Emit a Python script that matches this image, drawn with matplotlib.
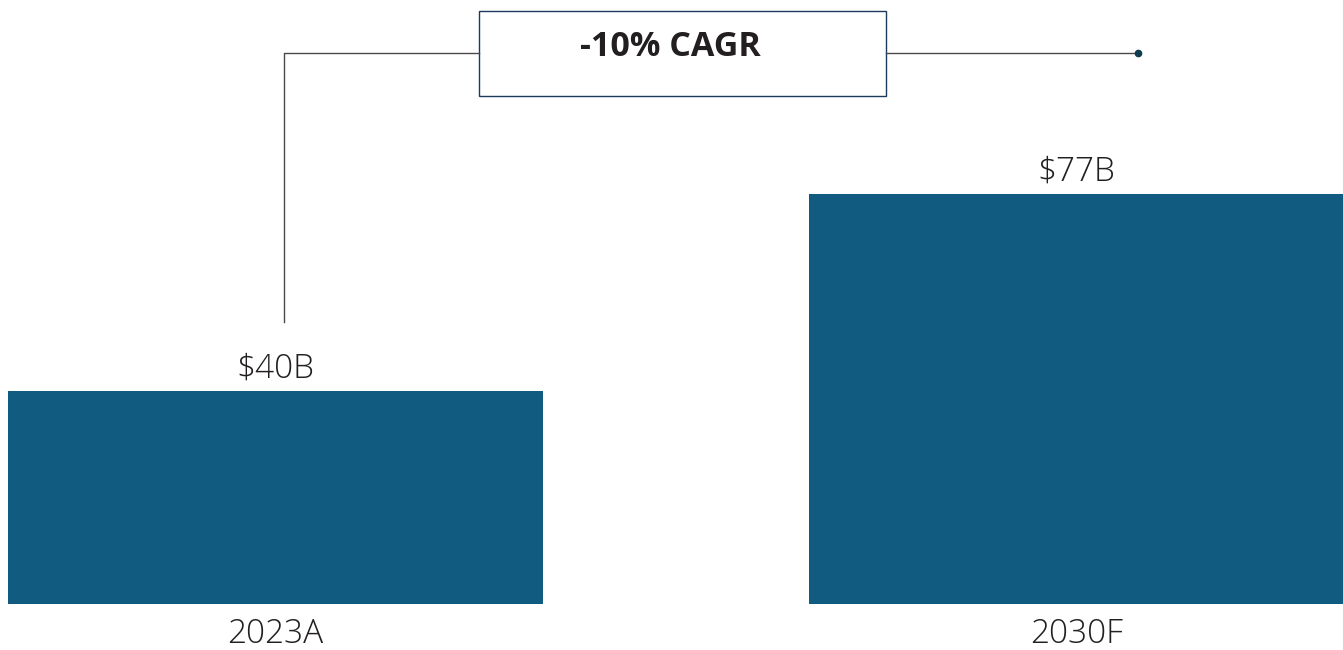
import matplotlib
matplotlib.use("Agg")
import matplotlib.pyplot as plt
from matplotlib.patches import Rectangle
from matplotlib.lines import Line2D

categories = ["2023A", "2030F"]
values = [40, 77]
value_labels = ["$40B", "$77B"]
cagr_label = "-10% CAGR"

W, H = 1343, 650
fig = plt.figure(figsize=(W / 100, H / 100), dpi=100)
ax = fig.add_axes([0, 0, 1, 1])
ax.axis("off")

bar_color = "#115a80"
x = list(range(len(categories)))
ax.bar(x, values, width=0.668, color=bar_color)
ax.set_xlim(-0.344, 1.3327)
ax.set_ylim(-8.65, 113.5)

font = ["Open Sans", "DejaVu Sans"]
txt_color = "#231f20"
for xi, v, lab, cat in zip(x, values, value_labels, categories):
    ax.annotate(lab, (xi, v), xytext=(0, 16), textcoords="offset points",
                ha="center", va="center", fontsize=24, family=font,
                fontweight="light", color=txt_color)
    ax.annotate(cat, (xi, 0), xytext=(0, -22), textcoords="offset points",
                ha="center", va="center", fontsize=24, family=font,
                fontweight="light", color=txt_color)

def fx(px):
    return px / W

def fy(py):
    return 1 - py / H

line_color = "#4a4a4a"
fig.add_artist(Line2D([fx(284), fx(284), fx(479)], [fy(322), fy(53), fy(53)],
                      color=line_color, lw=1.0, transform=fig.transFigure))
fig.add_artist(Line2D([fx(886), fx(1138)], [fy(53), fy(53)],
                      color=line_color, lw=1.0, transform=fig.transFigure))
fig.add_artist(Line2D([fx(1138)], [fy(53)], marker="o", markersize=4.5,
                      color="#0d3b50", transform=fig.transFigure))
fig.add_artist(Rectangle((fx(479), fy(96)), fx(886) - fx(479), fy(11) - fy(96),
                         facecolor="white", edgecolor="#1b3a5c", lw=1.0,
                         transform=fig.transFigure))
fig.text(fx(670), fy(47), cagr_label, ha="center", va="center", fontsize=24.5,
         family=font, fontweight="bold", color=txt_color)

fig.savefig("out.png", dpi=100)
